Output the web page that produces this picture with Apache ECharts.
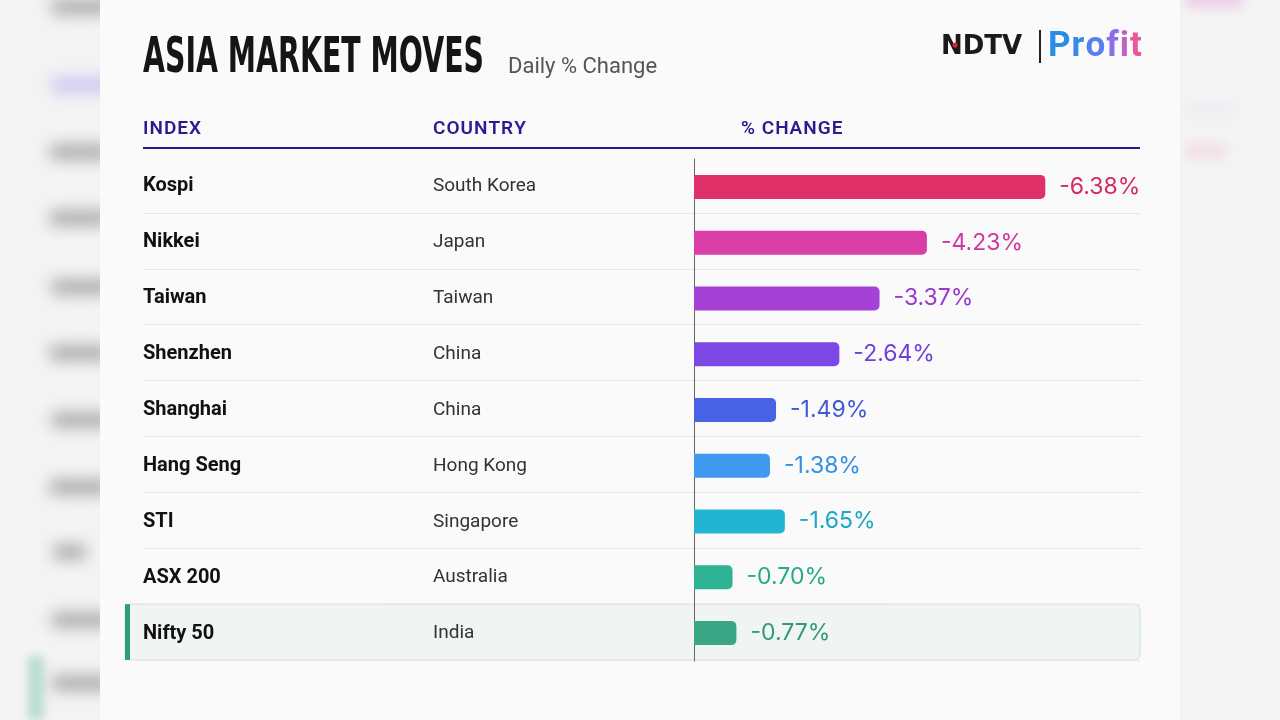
<!DOCTYPE html>
<html>
<head>
<meta charset="utf-8">
<script src="https://cdn.jsdelivr.net/npm/echarts@6/dist/echarts.min.js"></script>
<style>
  html, body { margin: 0; padding: 0; background: #f4f4f4; }
  #main { width: 1280px; height: 720px; }
</style>
</head>
<body>
<div id="main"></div>
<script>
const indices = ["Kospi", "Nikkei", "Taiwan", "Shenzhen", "Shanghai", "Hang Seng", "STI", "ASX 200", "Nifty 50"];
const countries = ["South Korea", "Japan", "Taiwan", "China", "China", "Hong Kong", "Singapore", "Australia", "India"];
const changes = [-6.38, -4.23, -3.37, -2.64, -1.49, -1.38, -1.65, -0.70, -0.77];
const headers = ["INDEX", "COUNTRY", "% CHANGE"];

const barColors = ["#e0306a", "#db3da8", "#a641d6", "#7b48e6", "#4a63e5", "#3f99f0", "#22b4d1", "#2db393", "#3aa683"];
const labelColors = ["#d42a62", "#cf37a0", "#9a39cc", "#6e40dc", "#3f58d8", "#3490e6", "#1ba8c6", "#27a888", "#2e9a78"];
const profitColors = ["#2a8ce8", "#3a88ea", "#5a7ef0", "#8c6fe6", "#c062c4", "#ea579a"];

// layout
const TOP = 157, ROWS_H = 503, LEFT = 143, RIGHT_X = 1140, BAR_X = 694;

// blurred background panels (y centre, x, width)
const blurRows = [[7, 52, 60], [85, 52, 60], [152, 50, 60], [218, 50, 60], [287, 52, 60], [353, 50, 60],
                  [420, 52, 60], [487, 50, 60], [552, 54, 32], [620, 52, 60], [683, 52, 60]];

const measurer = document.createElement("canvas").getContext("2d");
function textWidth(text, font) {
  measurer.font = font;
  return measurer.measureText(text).width;
}

const graphics = [];

function spacedText(x, y, text, font, spacing, fills) {
  let cx = x;
  for (let i = 0; i < text.length; i++) {
    const ch = text[i];
    graphics.push({
      type: "text", x: cx, y: y,
      style: { text: ch, font: font, fill: Array.isArray(fills) ? fills[i] : fills, verticalAlign: "middle" }
    });
    cx += textWidth(ch, font) + spacing;
  }
}

function blob(x, y, w, h, color, blur) {
  graphics.push({
    type: "rect", z: -10,
    shape: { x: x - 3000, y: y - h / 2, width: w, height: h },
    style: { fill: color, shadowBlur: blur, shadowOffsetX: 3000, shadowColor: color }
  });
}

blurRows.forEach(([y, x, w], i) => {
  blob(x, y, w, 14, i === 1 ? "rgba(185,172,235,0.85)" : "rgba(120,120,120,0.8)", 16);
});
blob(28, 688, 16, 64, "rgba(170,215,198,0.9)", 10);
blob(1186, 0, 56, 14, "rgba(228,160,215,0.7)", 12);
blob(1186, 110, 50, 10, "rgba(215,210,240,0.5)", 12);
blob(1186, 151, 40, 14, "rgba(240,180,200,0.6)", 12);

// card
graphics.push({ type: "rect", z: -9, shape: { x: 100, y: 0, width: 1080, height: 720 }, style: { fill: "#fafafa" } });

// title
const titleFont = 'bold 50px "DejaVu Sans"';
const titleText = "ASIA MARKET MOVES";
graphics.push({
  type: "text", x: LEFT, y: 59, scaleX: 341 / textWidth(titleText, titleFont),
  style: { text: titleText, font: titleFont, fill: "#151515", verticalAlign: "middle" }
});
graphics.push({
  type: "text", x: 508, y: 67,
  style: { text: "Daily % Change", font: '22px Roboto', fill: "#555", verticalAlign: "middle" }
});

// logo
graphics.push({
  type: "text", x: 941, y: 47,
  style: { text: "NDTV", font: 'bold 26px "DejaVu Sans"', fill: "#1a1a1a", verticalAlign: "middle" }
});
graphics.push({ type: "circle", shape: { cx: 955, cy: 45, r: 2.5 }, style: { fill: "#e0262d" } });
graphics.push({ type: "line", shape: { x1: 1040, y1: 30, x2: 1040, y2: 63 }, style: { stroke: "#222", lineWidth: 2 } });
spacedText(1048, 47, "Profit", 'bold 35px Roboto', 1, profitColors);

// headers
[LEFT, 433, 741].forEach((x, i) => spacedText(x, 129, headers[i], '600 19px Roboto', 1, "#2a1c8e"));
graphics.push({ type: "line", shape: { x1: LEFT, y1: 148, x2: RIGHT_X, y2: 148 }, style: { stroke: "#231f82", lineWidth: 2 } });

// highlighted India row
const rowH = ROWS_H / indices.length;
const hlY = TOP + rowH * 8;
graphics.push({
  type: "rect", z: -5,
  shape: { x: 125, y: hlY, width: RIGHT_X - 125, height: rowH, r: 6 },
  style: { fill: "#f0f5f3", stroke: "#cfe1da", lineWidth: 1 }
});
graphics.push({ type: "rect", z: -4, shape: { x: 125, y: hlY, width: 5, height: rowH }, style: { fill: "#2e9d7d" } });

const chart = echarts.init(document.getElementById("main"));
chart.setOption({
  backgroundColor: "#f4f4f4",
  animation: false,
  graphic: { elements: graphics },
  grid: [
    { left: LEFT, right: 1280 - RIGHT_X, top: TOP, height: ROWS_H },
    { left: BAR_X, right: 1280 - RIGHT_X, top: 159, height: 502 }
  ],
  xAxis: [
    { gridIndex: 0, type: "value", show: false },
    { gridIndex: 1, type: "value", inverse: true, min: -8.1, max: 0, show: false }
  ],
  yAxis: [
    {
      gridIndex: 0, type: "category", inverse: true, data: indices,
      axisLine: { show: false }, axisTick: { show: false },
      splitLine: { show: true, interval: (i) => i > 0, lineStyle: { color: "#e6e6e6", width: 1 } },
      axisLabel: {
        align: "left", margin: 0,
        formatter: (v, i) => "{n|" + v + "}{c|" + countries[i] + "}",
        rich: {
          n: { width: 290, fontFamily: "Roboto", fontWeight: "bold", fontSize: 20, color: "#111", padding: [3, 0, 0, 0] },
          c: { fontFamily: "Roboto", fontSize: 19, color: "#333", padding: [3, 0, 0, 0] }
        }
      }
    },
    {
      gridIndex: 1, type: "category", inverse: true, data: indices,
      axisLine: { show: true, lineStyle: { color: "#666", width: 1 } },
      axisTick: { show: false }, axisLabel: { show: false }, splitLine: { show: false }
    }
  ],
  series: [{
    type: "bar", xAxisIndex: 1, yAxisIndex: 1, barWidth: 24,
    data: changes.map((v, i) => ({
      value: v,
      itemStyle: { color: barColors[i], borderRadius: [0, 5, 5, 0] },
      label: { color: labelColors[i] }
    })),
    label: {
      show: true, position: "right", distance: 14,
      fontFamily: "Inter", fontSize: 23,
      formatter: (p) => p.value.toFixed(2) + "%"
    }
  }]
});
</script>
</body>
</html>
